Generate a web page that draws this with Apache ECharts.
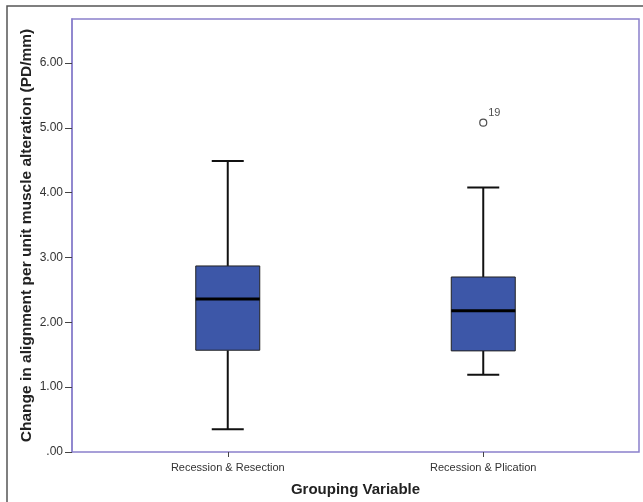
<!DOCTYPE html>
<html>
<head>
<meta charset="utf-8">
<script src="https://cdn.jsdelivr.net/npm/echarts@6/dist/echarts.min.js"></script>
<style>html,body{margin:0;padding:0;background:#fff}#c{width:643px;height:502px}</style>
</head>
<body>
<div id="c"></div>
<script>
const categories = ['Recession & Resection', 'Recession & Plication'];
const whiskerLow = [0.35, 1.19];
const q1 = [1.57, 1.56];
const median = [2.36, 2.18];
const q3 = [2.87, 2.70];
const whiskerHigh = [4.49, 4.08];
const outliers = [[1, 5.08, '19']];
const yTicks = [0, 1, 2, 3, 4, 5, 6];
const yMax = 6.68;

const boxData = categories.map((c, i) => [i, whiskerLow[i], q1[i], median[i], q3[i], whiskerHigh[i]]);

const chart = echarts.init(document.getElementById('c'));
const fmt = v => (v === 0 ? '.00' : v.toFixed(2));
chart.setOption({
  animation: false,
  backgroundColor: '#fff',
  graphic: [{
    type: 'polyline',
    shape: { points: [[7, 502], [7, 6], [643, 6]] },
    style: { stroke: '#555', lineWidth: 1.5, fill: null }
  }],
  grid: [
    { left: 72, top: 19, width: 567, height: 433, show: true, borderColor: '#8a80cc', borderWidth: 1.5, backgroundColor: '#fff' },
    { left: 100, top: 19, width: 511, height: 433 }
  ],
  xAxis: [
    { gridIndex: 0, type: 'value', show: false, min: 0, max: 1 },
    {
      gridIndex: 1, type: 'category', data: categories,
      axisLine: { show: false },
      axisTick: { show: true, alignWithLabel: true, length: 5, lineStyle: { color: '#444' } },
      axisLabel: { color: '#333', fontSize: 11, fontFamily: 'Arial, Liberation Sans', margin: 10 },
      name: 'Grouping Variable', nameLocation: 'middle', nameGap: 30,
      nameTextStyle: { fontSize: 15, fontWeight: 'bold', color: '#222', fontFamily: 'Arial, Liberation Sans' }
    }
  ],
  yAxis: [
    {
      gridIndex: 0, type: 'value', min: 0, max: yMax, interval: 1,
      axisLine: { show: true, lineStyle: { color: '#8a80cc', width: 1.5 } },
      axisTick: { show: true, length: 7, lineStyle: { color: '#444' },
        customValues: yTicks },
      axisLabel: { color: '#333', fontSize: 12, fontFamily: 'Arial, Liberation Sans', margin: 9,
        customValues: yTicks, formatter: fmt },
      splitLine: { show: false },
      name: 'Change in alignment per unit muscle alteration (PD/mm)',
      nameLocation: 'middle', nameGap: 37, nameMoveOverlap: false,
      nameTextStyle: { fontSize: 15.5, fontWeight: 'bold', color: '#222', fontFamily: 'Arial, Liberation Sans' }
    },
    { gridIndex: 1, type: 'value', min: 0, max: yMax, show: false }
  ],
  series: [
    {
      type: 'custom', xAxisIndex: 1, yAxisIndex: 1,
      data: boxData,
      renderItem: function (params, api) {
        const x = api.value(0);
        const pLow = api.coord([x, api.value(1)]);
        const pQ1 = api.coord([x, api.value(2)]);
        const pMed = api.coord([x, api.value(3)]);
        const pQ3 = api.coord([x, api.value(4)]);
        const pHigh = api.coord([x, api.value(5)]);
        const cx = pLow[0];
        const hw = 32, cw = 16;
        const ls = { stroke: '#111', lineWidth: 2 };
        return {
          type: 'group',
          children: [
            { type: 'line', shape: { x1: cx, y1: pQ3[1], x2: cx, y2: pHigh[1] }, style: ls },
            { type: 'line', shape: { x1: cx, y1: pQ1[1], x2: cx, y2: pLow[1] }, style: ls },
            { type: 'line', shape: { x1: cx - cw, y1: pHigh[1], x2: cx + cw, y2: pHigh[1] }, style: ls },
            { type: 'line', shape: { x1: cx - cw, y1: pLow[1], x2: cx + cw, y2: pLow[1] }, style: ls },
            { type: 'rect', shape: { x: cx - hw, y: pQ3[1], width: 2 * hw, height: pQ1[1] - pQ3[1] },
              style: { fill: '#3d57a8', stroke: '#222', lineWidth: 1 } },
            { type: 'line', shape: { x1: cx - hw, y1: pMed[1], x2: cx + hw, y2: pMed[1] },
              style: { stroke: '#000', lineWidth: 3 } }
          ]
        };
      }
    },
    {
      type: 'scatter', xAxisIndex: 1, yAxisIndex: 1,
      data: outliers.map(o => ({ value: [o[0], o[1]], name: o[2] })),
      symbol: 'circle', symbolSize: 7,
      itemStyle: { color: '#fff', borderColor: '#222', borderWidth: 1.2 },
      label: { show: true, formatter: p => p.name, position: [9, -11], fontSize: 11, color: '#222',
        fontFamily: 'Arial, Liberation Sans' }
    }
  ]
});
</script>
</body>
</html>
